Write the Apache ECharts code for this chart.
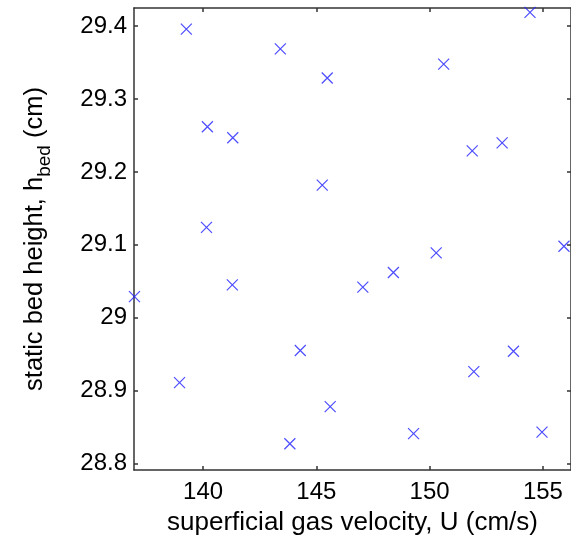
<!DOCTYPE html>
<html>
<head>
<meta charset="utf-8">
<script src="https://cdn.jsdelivr.net/npm/echarts@6/dist/echarts.min.js"></script>
<style>
  html, body { margin: 0; padding: 0; background: #fff; }
  #chart { width: 571px; height: 542px; }
</style>
</head>
<body>
<div id="chart"></div>
<script>
// superficial gas velocity U (cm/s) and static bed height h_bed (cm) per run
var velocity = [136.97, 139.26, 138.96, 140.19, 140.15, 141.31, 141.29, 143.41, 143.83, 144.29,
                145.48, 145.26, 145.61, 147.05, 148.40, 149.29, 150.29, 150.62, 151.88, 151.95,
                153.20, 153.70, 154.43, 154.96, 155.93];
var bedHeight = [29.029, 29.396, 28.911, 29.262, 29.124, 29.247, 29.045, 29.369, 28.827, 28.955,
                 29.329, 29.182, 28.878, 29.042, 29.062, 28.841, 29.089, 29.348, 29.229, 28.926,
                 29.240, 28.954, 29.419, 28.843, 29.098];

var xTicks = [140, 145, 150, 155];
var yTicks = [28.8, 28.9, 29, 29.1, 29.2, 29.3, 29.4];
var xRange = [136.95, 156.24];
var yRange = [28.791, 29.425];

var points = velocity.map(function (u, i) { return [u, bedHeight[i]]; });

var FONT = 'Liberation Sans, Arial, sans-serif';
var axisColor = '#333333';

function xAxisDef(pos, labels) {
  return {
    type: 'value', position: pos, min: xRange[0], max: xRange[1],
    axisLine: { show: true, onZero: false, lineStyle: { color: axisColor, width: 1.5 } },
    axisTick: { show: true, inside: true, length: 4, customValues: xTicks, lineStyle: { color: axisColor, width: 1.5 } },
    axisLabel: { show: labels, customValues: xTicks, margin: 10, fontSize: 24, color: '#000', fontFamily: FONT,
                 formatter: function (v) { return String(v); } },
    splitLine: { show: false }
  };
}
function yAxisDef(pos, labels) {
  return {
    type: 'value', position: pos, min: yRange[0], max: yRange[1],
    axisLine: { show: true, onZero: false, lineStyle: { color: axisColor, width: 1.5 } },
    axisTick: { show: true, inside: true, length: 4, customValues: yTicks, lineStyle: { color: axisColor, width: 1.5 } },
    axisLabel: { show: labels, customValues: yTicks, margin: 7, fontSize: 24, color: '#000', fontFamily: FONT,
                 formatter: function (v) { return String(Math.round(v * 10) / 10); } },
    splitLine: { show: false }
  };
}

var xBottom = xAxisDef('bottom', true);
xBottom.name = 'superficial gas velocity, U (cm/s)';
xBottom.nameLocation = 'middle';
xBottom.nameGap = 40;
xBottom.nameTextStyle = { fontSize: 26, color: '#000', fontFamily: FONT };

var yLeft = yAxisDef('left', true);
yLeft.name = '{n|static bed height, h}{s|bed}{n| (cm)}';
yLeft.nameLocation = 'middle';
yLeft.nameGap = 82;
yLeft.nameTextStyle = {
  color: '#000', fontFamily: FONT,
  rich: {
    n: { fontSize: 25.5, color: '#000', fontFamily: FONT, lineHeight: 30, verticalAlign: 'bottom', padding: [0, 0, 4, 0] },
    s: { fontSize: 19, color: '#000', fontFamily: FONT, lineHeight: 30, verticalAlign: 'bottom', padding: [0, 0, -2, 0] }
  }
};

var chart = echarts.init(document.getElementById('chart'), null, { renderer: 'canvas' });
chart.setOption({
  animation: false,
  backgroundColor: '#ffffff',
  grid: { left: 134, top: 8, width: 438, height: 462, containLabel: false },
  xAxis: [xBottom, xAxisDef('top', false)],
  yAxis: [yLeft, yAxisDef('right', false)],
  series: [{
    type: 'scatter',
    data: points,
    clip: false,
    symbol: 'path://M0,0L10,10M10,0L0,10',
    symbolSize: 11,
    itemStyle: { color: 'rgba(0,0,0,0)', borderColor: '#1f1fff', borderWidth: 1.2 }
  }]
});
</script>
</body>
</html>
